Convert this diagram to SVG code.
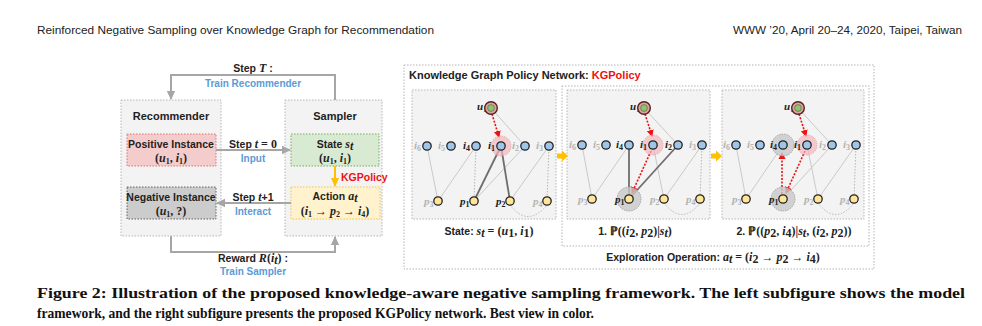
<svg xmlns="http://www.w3.org/2000/svg" width="982" height="326" viewBox="0 0 982 326">
<style>
.hdr{font-family:"Liberation Sans",sans-serif;font-size:11px;fill:#222}
.cap{font-family:"Liberation Serif",serif;font-weight:bold;font-size:15.5px;fill:#111}
.b{font-family:"Liberation Sans",sans-serif;font-weight:bold;font-size:10.5px;fill:#222}
.t{font-family:"Liberation Sans",sans-serif;font-weight:bold;font-size:11px;fill:#222}
.bl{font-family:"Liberation Sans",sans-serif;font-weight:bold;font-size:10px;fill:#5b9bd5}
.m{font-family:"Liberation Serif","DejaVu Serif",serif;font-weight:bold;font-style:italic;font-size:12px;fill:#222}
.mu{font-family:"Liberation Serif","DejaVu Serif",serif;font-weight:bold;font-size:12px;fill:#222}
.red{fill:#ee1111}
.panel{fill:#f3f3f3;stroke:#b5b5b5;stroke-width:1;stroke-dasharray:1.5 1.5}
.wpanel{fill:#ffffff;stroke:#b5b5b5;stroke-width:1;stroke-dasharray:1.5 1.5}
.flow{fill:none;stroke:#a6a6a6;stroke-width:2}
.thin{fill:none;stroke:#c4c4c4;stroke-width:0.9}
.dot{fill:none;stroke:#b0b0b0;stroke-width:0.9;stroke-dasharray:1.5 1.5}
.dark{fill:none;stroke:#6e6e6e;stroke-width:1.8}
.rd{fill:none;stroke:#ee1111;stroke-width:1.6;stroke-dasharray:2 1.5}
.in{fill:#9fc5e8;stroke:#222;stroke-width:1.3}
.pn{fill:#ffe599;stroke:#222;stroke-width:1.3}
.uo{fill:#d8a6a0;stroke:#5c1f1f;stroke-width:1.4}
.ui{fill:#8fc46a;stroke:#444;stroke-width:0.5}
.hp{fill:#f4b6bd;fill-opacity:0.7;stroke:#e89aa4;stroke-width:0.8;stroke-dasharray:1.5 1}
.hg{fill:#c8c8c8;fill-opacity:0.8;stroke:#999;stroke-width:0.8;stroke-dasharray:1.5 1}
.nl{font-family:"Liberation Serif",serif;font-weight:bold;font-style:italic;font-size:11px;fill:#222}
.ng{font-family:"Liberation Serif",serif;font-weight:bold;font-style:italic;font-size:11px;fill:#b3b3b3}
.sb{font-size:8px;font-style:normal}
.oarr{fill:#ffc000}
</style>
<defs>
<marker id="ga" markerUnits="userSpaceOnUse" markerWidth="10" markerHeight="10" refX="8" refY="5" orient="auto"><path d="M0,0.8 L9,5 L0,9.2 z" fill="#a6a6a6"/></marker>
<marker id="oa" markerUnits="userSpaceOnUse" markerWidth="10" markerHeight="10" refX="8" refY="5" orient="auto"><path d="M0,1 L9,5 L0,9 z" fill="#ffc000"/></marker>
<marker id="ra" markerUnits="userSpaceOnUse" markerWidth="8" markerHeight="8" refX="6" refY="4" orient="auto"><path d="M0,0.5 L7,4 L0,7.5 z" fill="#ee1111"/></marker>
</defs>

<!-- page header -->
<text class="hdr" x="37" y="34" textLength="397" lengthAdjust="spacingAndGlyphs">Reinforced Negative Sampling over Knowledge Graph for Recommendation</text>
<text class="hdr" x="733" y="34" textLength="229" lengthAdjust="spacingAndGlyphs">WWW ’20, April 20–24, 2020, Taipei, Taiwan</text>

<!-- left framework -->
<g id="recommender">
<rect class="panel" x="121" y="100" width="100" height="136"/>
<text class="t" x="171" y="120" text-anchor="middle">Recommender</text>
</g>
<g id="sampler">
<rect class="panel" x="285" y="100" width="97" height="136"/>
<text class="t" x="335" y="120" text-anchor="middle">Sampler</text>
</g>
<g id="positive">
<rect x="127" y="134" width="89" height="32" fill="#f4cccc" stroke="#e06666" stroke-width="0.9" stroke-dasharray="1.5 1.5"/>
<text class="b" x="171" y="148" text-anchor="middle">Positive Instance</text>
<text class="mu" x="171" y="162" text-anchor="middle">(<tspan font-style="italic">u</tspan><tspan font-size="8" dy="2">1</tspan><tspan dy="-2">, </tspan><tspan font-style="italic">i</tspan><tspan font-size="8" dy="2">1</tspan><tspan dy="-2">)</tspan></text>
</g>
<g id="state">
<rect x="291" y="134" width="88" height="32" fill="#d9ead3" stroke="#6aa84f" stroke-width="0.9" stroke-dasharray="1.5 1.5"/>
<text class="b" x="335" y="148" text-anchor="middle">State <tspan class="m" font-size="11">s</tspan><tspan class="m" font-size="8" dy="2">t</tspan></text>
<text class="mu" x="335" y="162" text-anchor="middle">(<tspan font-style="italic">u</tspan><tspan font-size="8" dy="2">1</tspan><tspan dy="-2">, </tspan><tspan font-style="italic">i</tspan><tspan font-size="8" dy="2">1</tspan><tspan dy="-2">)</tspan></text>
</g>
<g id="negative">
<rect x="127" y="187" width="89" height="32" fill="#cccccc" stroke="#555" stroke-width="0.9" stroke-dasharray="1.5 1.5"/>
<text class="b" x="171" y="201" text-anchor="middle">Negative Instance</text>
<text class="mu" x="171" y="215" text-anchor="middle">(<tspan font-style="italic">u</tspan><tspan font-size="8" dy="2">1</tspan><tspan dy="-2">, ?)</tspan></text>
</g>
<g id="action">
<rect x="291" y="187" width="89" height="32" fill="#fff2cc" stroke="#f1c232" stroke-width="0.9" stroke-dasharray="1.5 1.5"/>
<text class="b" x="335" y="200" text-anchor="middle">Action <tspan class="m" font-size="11">a</tspan><tspan class="m" font-size="8" dy="2">t</tspan></text>
<text class="mu" x="335" y="215" text-anchor="middle" font-size="11.5">(<tspan font-style="italic">i</tspan><tspan font-size="8" dy="2">1</tspan><tspan dy="-2"> → </tspan><tspan font-style="italic">p</tspan><tspan font-size="8" dy="2">2</tspan><tspan dy="-2"> → </tspan><tspan font-style="italic">i</tspan><tspan font-size="8" dy="2">4</tspan><tspan dy="-2">)</tspan></text>
</g>

<g id="left-connectors">
<path class="flow" d="M335,100 V75 H171 V99" marker-end="url(#ga)"/>
<path class="flow" d="M171,236 V252 H335 V237" marker-end="url(#ga)"/>
<path class="flow" d="M216,150 H290" marker-end="url(#ga)"/>
<path class="flow" d="M291,203 H217" marker-end="url(#ga)"/>
<path d="M335,166 V186" fill="none" stroke="#ffc000" stroke-width="2" marker-end="url(#oa)"/>
</g>
<g id="left-labels">
<text class="b" x="253" y="72" text-anchor="middle">Step <tspan class="m" font-size="11">T</tspan> :</text>
<text class="bl" x="253" y="87" text-anchor="middle">Train Recommender</text>
<text class="b" x="253" y="148" text-anchor="middle">Step <tspan class="m" font-size="11">t</tspan><tspan class="mu" font-size="11"> = 0</tspan></text>
<text class="bl" x="253" y="162" text-anchor="middle">Input</text>
<text class="b" x="253" y="201" text-anchor="middle">Step <tspan class="m" font-size="11">t</tspan>+1</text>
<text class="bl" x="253" y="215" text-anchor="middle">Interact</text>
<text class="b red" x="341" y="181">KGPolicy</text>
<text class="b" x="253" y="262" text-anchor="middle">Reward <tspan class="m" font-size="11">R</tspan><tspan class="mu" font-size="11">(</tspan><tspan class="m" font-size="11">i</tspan><tspan class="m" font-size="8" dy="2">t</tspan><tspan class="mu" font-size="11" dy="-2">)</tspan> :</text>
<text class="bl" x="253" y="275" text-anchor="middle">Train Sampler</text>
</g>

<!-- right: KGPolicy network -->
<g id="kgpolicy-frame">
<rect class="wpanel" x="404" y="65" width="470" height="204"/>
<text class="t" x="409" y="79" font-size="11.5">Knowledge Graph Policy Network: <tspan class="red">KGPolicy</tspan></text>
<rect class="wpanel" x="562" y="86" width="307" height="160"/>
<rect class="panel" x="412" y="90" width="144" height="129"/>
<rect class="panel" x="567" y="90" width="143" height="129"/>
<rect class="panel" x="722" y="90" width="142" height="129"/>
<path class="oarr" d="M557,153.5 h5 v-3 l6,5.5 l-6,5.5 v-3 h-5 z"/>
<path class="oarr" d="M711,153.5 h5 v-3 l6,5.5 l-6,5.5 v-3 h-5 z"/>
</g>

<!-- panel 1 -->
<g id="panel1-edges">
<line class="thin" x1="491" y1="108" x2="525" y2="146"/>
<line class="thin" x1="427" y1="146" x2="438" y2="201"/>
<line class="thin" x1="476" y1="146" x2="438" y2="201"/>
<line class="thin" x1="525" y1="146" x2="474" y2="201"/>
<line class="thin" x1="549" y1="146" x2="510" y2="201"/>
<line class="dot" x1="476" y1="146" x2="474" y2="201"/>
<line class="dot" x1="549" y1="146" x2="547" y2="201"/>
<path class="dot" d="M510,205 Q528,228 547,205"/>
<line class="dark" x1="501" y1="146" x2="474" y2="201"/>
<line class="dark" x1="501" y1="146" x2="510" y2="201"/>
<line class="rd" x1="492" y1="114" x2="499" y2="137" marker-end="url(#ra)"/>
</g>
<g id="panel1-nodes">
<circle class="hp" cx="501" cy="146" r="10"/>
<text class="nl" x="477" y="110">u<tspan class="sb" dy="2">1</tspan></text>
<text class="ng" x="414" y="149">i<tspan class="sb" dy="2">6</tspan></text>
<text class="ng" x="438" y="149">i<tspan class="sb" dy="2">5</tspan></text>
<text class="nl" x="463" y="149">i<tspan class="sb" dy="2">4</tspan></text>
<text class="nl" x="488" y="149">i<tspan class="sb" dy="2">1</tspan></text>
<text class="ng" x="512" y="149">i<tspan class="sb" dy="2">2</tspan></text>
<text class="ng" x="536" y="149">i<tspan class="sb" dy="2">3</tspan></text>
<text class="ng" x="424" y="205">p<tspan class="sb" dy="2">3</tspan></text>
<text class="nl" x="460" y="205">p<tspan class="sb" dy="2">1</tspan></text>
<text class="nl" x="496" y="205">p<tspan class="sb" dy="2">2</tspan></text>
<text class="ng" x="533" y="205">p<tspan class="sb" dy="2">4</tspan></text>
<circle class="uo" cx="491" cy="108" r="6.3"/><circle class="ui" cx="491" cy="108" r="3.4"/>
<circle class="in" cx="427" cy="146" r="4.2"/><circle class="in" cx="451" cy="146" r="4.2"/><circle class="in" cx="476" cy="146" r="4.2"/><circle class="in" cx="501" cy="146" r="4.2"/><circle class="in" cx="525" cy="146" r="4.2"/><circle class="in" cx="549" cy="146" r="4.2"/>
<circle class="pn" cx="438" cy="201" r="4.2"/><circle class="pn" cx="474" cy="201" r="4.2"/><circle class="pn" cx="510" cy="201" r="4.2"/><circle class="pn" cx="547" cy="201" r="4.2"/>
</g>

<!-- panel 2 -->
<g id="panel2-edges">
<line class="thin" x1="644" y1="108" x2="678" y2="145"/>
<line class="thin" x1="582" y1="145" x2="592" y2="199"/>
<line class="thin" x1="629" y1="145" x2="592" y2="199"/>
<line class="thin" x1="653" y1="145" x2="664" y2="199"/>
<line class="thin" x1="702" y1="145" x2="664" y2="199"/>
<line class="dot" x1="702" y1="145" x2="700" y2="199"/>
<path class="dot" d="M664,203 Q682,226 700,203"/>
<line class="dark" x1="629" y1="145" x2="629" y2="199"/>
<line class="dark" x1="678" y1="145" x2="629" y2="199"/>
<line class="rd" x1="645" y1="114" x2="652" y2="136" marker-end="url(#ra)"/>
<line class="rd" x1="651" y1="151" x2="632" y2="193" marker-end="url(#ra)"/>
</g>
<g id="panel2-nodes">
<circle class="hp" cx="653" cy="145" r="10"/>
<circle class="hg" cx="629" cy="199" r="12"/>
<text class="nl" x="630" y="110">u<tspan class="sb" dy="2">1</tspan></text>
<text class="ng" x="569" y="148">i<tspan class="sb" dy="2">6</tspan></text>
<text class="ng" x="593" y="148">i<tspan class="sb" dy="2">5</tspan></text>
<text class="nl" x="616" y="148">i<tspan class="sb" dy="2">4</tspan></text>
<text class="nl" x="640" y="148">i<tspan class="sb" dy="2">1</tspan></text>
<text class="nl" x="665" y="148">i<tspan class="sb" dy="2">2</tspan></text>
<text class="ng" x="689" y="148">i<tspan class="sb" dy="2">3</tspan></text>
<text class="ng" x="578" y="203">p<tspan class="sb" dy="2">3</tspan></text>
<text class="nl" x="615" y="203">p<tspan class="sb" dy="2">1</tspan></text>
<text class="ng" x="650" y="203">p<tspan class="sb" dy="2">2</tspan></text>
<text class="ng" x="686" y="203">p<tspan class="sb" dy="2">4</tspan></text>
<circle class="uo" cx="644" cy="108" r="6.3"/><circle class="ui" cx="644" cy="108" r="3.4"/>
<circle class="in" cx="582" cy="145" r="4.2"/><circle class="in" cx="606" cy="145" r="4.2"/><circle class="in" cx="629" cy="145" r="4.2"/><circle class="in" cx="653" cy="145" r="4.2"/><circle class="in" cx="678" cy="145" r="4.2"/><circle class="in" cx="702" cy="145" r="4.2"/>
<circle class="pn" cx="592" cy="199" r="4.2"/><circle class="pn" cx="629" cy="199" r="4.2"/><circle class="pn" cx="664" cy="199" r="4.2"/><circle class="pn" cx="700" cy="199" r="4.2"/>
</g>

<!-- panel 3 -->
<g id="panel3-edges">
<line class="thin" x1="798" y1="108" x2="832" y2="145"/>
<line class="thin" x1="736" y1="145" x2="746" y2="199"/>
<line class="thin" x1="783" y1="145" x2="746" y2="199"/>
<line class="thin" x1="832" y1="145" x2="783" y2="199"/>
<line class="thin" x1="807" y1="145" x2="818" y2="199"/>
<line class="thin" x1="856" y1="145" x2="818" y2="199"/>
<line class="dot" x1="856" y1="145" x2="854" y2="199"/>
<path class="dot" d="M818,203 Q836,226 854,203"/>
<line class="rd" x1="799" y1="114" x2="806" y2="136" marker-end="url(#ra)"/>
<line class="rd" x1="805" y1="151" x2="786" y2="193" marker-end="url(#ra)"/>
<line class="rd" x1="782" y1="194" x2="782" y2="153" marker-end="url(#ra)"/>
</g>
<g id="panel3-nodes">
<circle class="hg" cx="783" cy="145" r="11"/>
<circle class="hp" cx="807" cy="145" r="10"/>
<circle class="hg" cx="783" cy="199" r="12"/>
<text class="nl" x="784" y="110">u<tspan class="sb" dy="2">1</tspan></text>
<text class="ng" x="723" y="148">i<tspan class="sb" dy="2">6</tspan></text>
<text class="ng" x="747" y="148">i<tspan class="sb" dy="2">5</tspan></text>
<text class="nl" x="770" y="148">i<tspan class="sb" dy="2">4</tspan></text>
<text class="nl" x="794" y="148">i<tspan class="sb" dy="2">1</tspan></text>
<text class="ng" x="819" y="148">i<tspan class="sb" dy="2">2</tspan></text>
<text class="ng" x="843" y="148">i<tspan class="sb" dy="2">3</tspan></text>
<text class="ng" x="732" y="203">p<tspan class="sb" dy="2">3</tspan></text>
<text class="nl" x="769" y="203">p<tspan class="sb" dy="2">1</tspan></text>
<text class="ng" x="804" y="203">p<tspan class="sb" dy="2">2</tspan></text>
<text class="ng" x="840" y="203">p<tspan class="sb" dy="2">4</tspan></text>
<circle class="uo" cx="798" cy="108" r="6.3"/><circle class="ui" cx="798" cy="108" r="3.4"/>
<circle class="in" cx="736" cy="145" r="4.2"/><circle class="in" cx="760" cy="145" r="4.2"/><circle class="in" cx="783" cy="145" r="4.2"/><circle class="in" cx="807" cy="145" r="4.2"/><circle class="in" cx="832" cy="145" r="4.2"/><circle class="in" cx="856" cy="145" r="4.2"/>
<circle class="pn" cx="746" cy="199" r="4.2"/><circle class="pn" cx="783" cy="199" r="4.2"/><circle class="pn" cx="818" cy="199" r="4.2"/><circle class="pn" cx="854" cy="199" r="4.2"/>
</g>

<g id="right-labels">
<text class="b" x="489" y="235" text-anchor="middle">State: <tspan class="m">s</tspan><tspan class="m" font-size="8" dy="2">t</tspan><tspan class="mu" dy="-2"> = (</tspan><tspan class="m">u</tspan><tspan class="mu" font-size="8" dy="2">1</tspan><tspan class="mu" dy="-2">, </tspan><tspan class="m">i</tspan><tspan class="mu" font-size="8" dy="2">1</tspan><tspan class="mu" dy="-2">)</tspan></text>
<text class="b" x="635" y="235" text-anchor="middle">1. <tspan class="mu">ℙ((</tspan><tspan class="m">i</tspan><tspan class="mu" font-size="8" dy="2">2</tspan><tspan class="mu" dy="-2">, </tspan><tspan class="m">p</tspan><tspan class="mu" font-size="8" dy="2">2</tspan><tspan class="mu" dy="-2">)|</tspan><tspan class="m">s</tspan><tspan class="m" font-size="8" dy="2">t</tspan><tspan class="mu" dy="-2">)</tspan></text>
<text class="b" x="794" y="235" text-anchor="middle">2. <tspan class="mu">ℙ((</tspan><tspan class="m">p</tspan><tspan class="mu" font-size="8" dy="2">2</tspan><tspan class="mu" dy="-2">, </tspan><tspan class="m">i</tspan><tspan class="mu" font-size="8" dy="2">4</tspan><tspan class="mu" dy="-2">)|</tspan><tspan class="m">s</tspan><tspan class="m" font-size="8" dy="2">t</tspan><tspan class="mu" dy="-2">, (</tspan><tspan class="m">i</tspan><tspan class="mu" font-size="8" dy="2">2</tspan><tspan class="mu" dy="-2">, </tspan><tspan class="m">p</tspan><tspan class="mu" font-size="8" dy="2">2</tspan><tspan class="mu" dy="-2">))</tspan></text>
<text class="b" x="713" y="261" text-anchor="middle">Exploration Operation: <tspan class="m">a</tspan><tspan class="m" font-size="8" dy="2">t</tspan><tspan class="mu" dy="-2"> = (</tspan><tspan class="m">i</tspan><tspan class="mu" font-size="8" dy="2">2</tspan><tspan class="mu" dy="-2"> → </tspan><tspan class="m">p</tspan><tspan class="mu" font-size="8" dy="2">2</tspan><tspan class="mu" dy="-2"> → </tspan><tspan class="m">i</tspan><tspan class="mu" font-size="8" dy="2">4</tspan><tspan class="mu" dy="-2">)</tspan></text>
</g>

<!-- caption -->
<text class="cap" x="37" y="298" textLength="928" lengthAdjust="spacingAndGlyphs">Figure 2: Illustration of the proposed knowledge-aware negative sampling framework. The left subfigure shows the model</text>
<text class="cap" x="37" y="318" textLength="557" lengthAdjust="spacingAndGlyphs">framework, and the right subfigure presents the proposed KGPolicy network. Best view in color.</text>
</svg>
